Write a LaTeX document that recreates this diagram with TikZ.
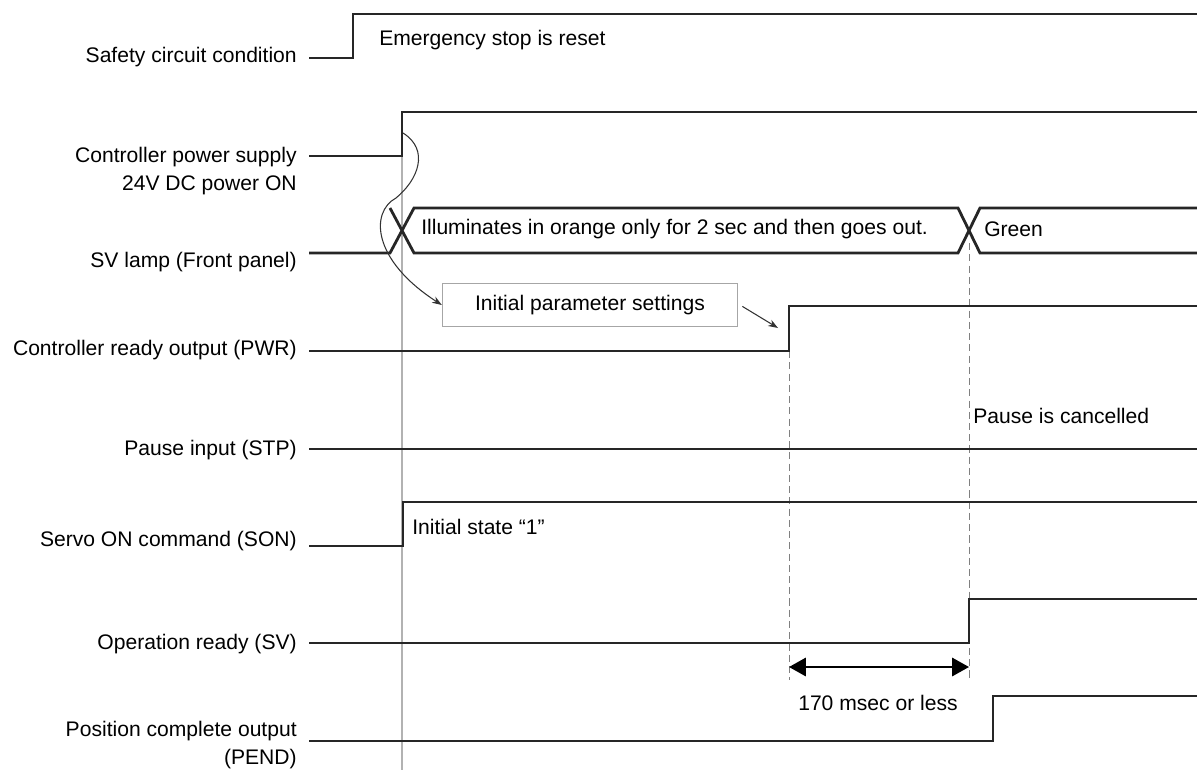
\documentclass[tikz,border=0pt]{standalone}
\usepackage{fontspec}
\setmainfont{Liberation Sans}
\usetikzlibrary{arrows.meta,positioning,calc}
\begin{document}
\begin{tikzpicture}[
  x=0.025cm, y=-0.025cm,
  sig/.style={draw, line width=2pt, black!85},
  lbl/.style={anchor=east, inner sep=0pt, align=right, font=\fontsize{15}{20}\selectfont},
  note/.style={anchor=west, inner sep=0pt, font=\fontsize{15}{18}\selectfont},
  guide/.style={draw, gray!60, line width=1pt},
  dline/.style={draw, gray, line width=0.7pt, dash pattern=on 5pt off 3pt},
  parbox/.style={draw=gray!70, line width=0.9pt, minimum width=7.375cm, minimum height=1.075cm, font=\fontsize{15}{18}\selectfont},
  thinarr/.style={draw, black!80, line width=0.75pt, -{Stealth[length=7pt,width=5pt]}}
]
\useasboundingbox (0,0) rectangle (1197,770);

\node [lbl] (lsafe) at (297,57) {Safety circuit condition};
\node [lbl] (lpower) at (297,171) {Controller power supply\\24V DC power ON};
\node [lbl] (llamp) at (297,262) {SV lamp (Front panel)};
\node [lbl] (lpwr) at (297,350) {Controller ready output (PWR)};
\node [lbl] (lstp) at (297,450) {Pause input (STP)};
\node [lbl] (lson) at (297,541) {Servo ON command (SON)};
\node [lbl] (lsv) at (297,644) {Operation ready (SV)};
\node [lbl] (lpend) at (297,745) {Position complete output\\(PEND)};

\draw [guide] (402,156) -- (402,770);
\draw [dline] (789,351) -- (789,680);
\draw [dline] (969,243) -- (969,680);

\draw [sig] (309,58) -- (353,58) -- (353,14) -- (1197,14);
\draw [sig] (309,156) -- (402,156) -- (402,112) -- (1197,112);
\draw [sig] (309,253) -- (390,253) -- (414,208) -- (958,208) -- (980,253) -- (1197,253);
\draw [sig] (390,208) -- (414,253) -- (958,253) -- (980,208) -- (1197,208);
\draw [sig] (309,351) -- (789,351) -- (789,306) -- (1197,306);
\draw [sig] (309,449) -- (1197,449);
\draw [sig] (309,546) -- (403,546) -- (403,502) -- (1197,502);
\draw [sig] (309,643) -- (969,643) -- (969,599) -- (1197,599);
\draw [sig] (309,741) -- (993,741) -- (993,696) -- (1197,696);

\node [note] (nreset) at (379,40) {Emergency stop is reset};
\node [note] (norange) at (421,229) {Illuminates in orange only for 2 sec and then goes out.};
\node [note] (ngreen) at (984,229) {Green};
\node [parbox] (initbox) at (590,305) {Initial parameter settings};
\node [note] (ncancel) at (973,416) {Pause is cancelled};
\node [note] (ninit) at (412,527) {Initial state “1”};
\node [font=\fontsize{15}{18}\selectfont, inner sep=0pt] (nmsec) at (878,703) {170 msec or less};

\coordinate (pstep) at (403,133);
\coordinate (pwrtip) at (778,328);
\coordinate (dleft) at (789,667);
\coordinate (dright) at (969,667);

\draw [thinarr] (pstep) .. controls (430,150) and (418,180) .. (396,198)
  .. controls (370,212) and (372,260) .. (initbox.west);
\draw [thinarr] ([xshift=3pt,yshift=-1pt]initbox.east) -- (pwrtip);
\draw [line width=1.6pt, {Triangle[length=12pt,width=13pt]}-{Triangle[length=12pt,width=13pt]}] (dleft) -- (dright);
\end{tikzpicture}
\end{document}
